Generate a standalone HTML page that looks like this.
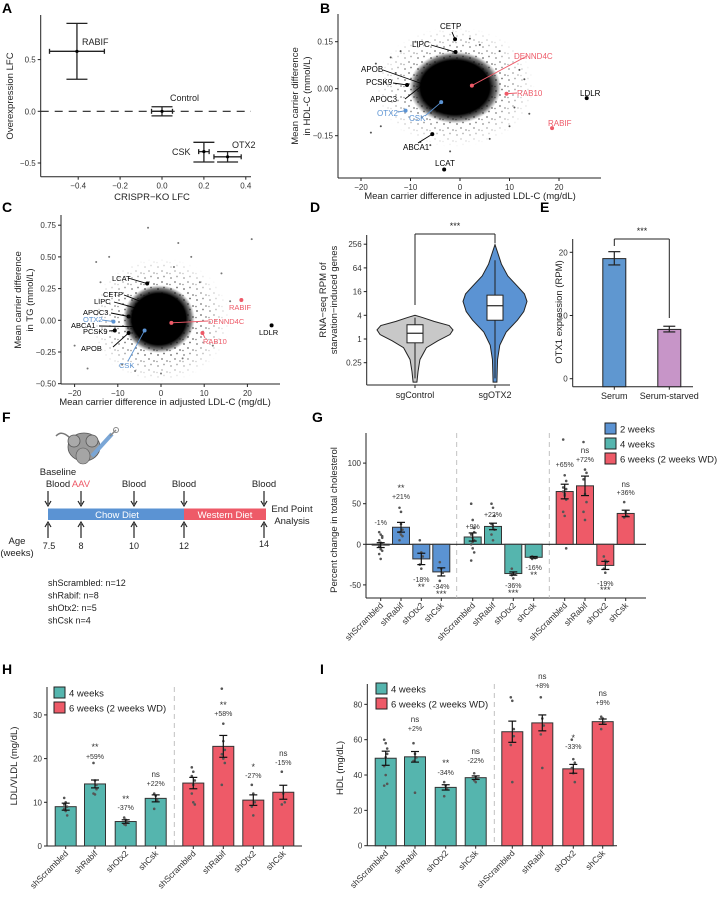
<!DOCTYPE html>
<html><head><meta charset="utf-8"><style>
body{margin:0;background:#fff}
svg{display:block;font-family:"Liberation Sans",Arial,sans-serif}
</style></head><body>
<svg id="fig" width="719" height="899" viewBox="0 0 719 899" xmlns="http://www.w3.org/2000/svg">
<defs>
<radialGradient id="cloud" cx="50%" cy="50%" r="50%">
<stop offset="0" stop-color="#000" stop-opacity="1"/>
<stop offset="0.75" stop-color="#000" stop-opacity="1"/>
<stop offset="0.9" stop-color="#222" stop-opacity="0.6"/>
<stop offset="1" stop-color="#555" stop-opacity="0"/>
</radialGradient>
<radialGradient id="fadeG" cx="50%" cy="50%" r="50%">
<stop offset="0" stop-color="#fff" stop-opacity="1"/>
<stop offset="0.55" stop-color="#fff" stop-opacity="0.9"/>
<stop offset="1" stop-color="#fff" stop-opacity="0"/>
</radialGradient>
<pattern id="dots" width="13" height="11" patternUnits="userSpaceOnUse">
<circle cx="2" cy="3" r="0.9" fill="#444"/>
<circle cx="8" cy="1.5" r="0.9" fill="#555"/>
<circle cx="6" cy="7" r="0.9" fill="#444"/>
<circle cx="11" cy="9" r="0.9" fill="#555"/>
<circle cx="1" cy="9.5" r="0.8" fill="#666"/>
</pattern>
<mask id="mB" maskUnits="userSpaceOnUse" x="0" y="0" width="719" height="899"><ellipse cx="455" cy="87" rx="80" ry="60" fill="url(#fadeG)"/></mask>
<mask id="mC" maskUnits="userSpaceOnUse" x="0" y="0" width="719" height="899"><ellipse cx="160" cy="320" rx="70" ry="62" fill="url(#fadeG)"/></mask>
</defs>
</svg>
<script>
// ---------- data ----------
// Panel A
const aNames=["RABIF","Control","CSK","OTX2"];
const aX=[-0.406,0,0.2,0.313];
const aXerr=[0.131,0.05,0.025,0.065];
const aY=[0.58,0,-0.39,-0.44];
const aYlo=[0.31,-0.044,-0.49,-0.49];
const aYhi=[0.85,0.044,-0.30,-0.39];
// Panel B (HDL)
const bNames=["CETP","LIPC","DENND4C","RAB10","LDLR","RABIF","LCAT","ABCA1","APOB","PCSK9","APOC3","OTX2","CSK"];
const bX=[-1,-0.9,2.4,9.4,25.6,18.6,-3.2,-5.6,-7.5,-10.7,-7.5,-11,-3.8];
const bY=[0.158,0.117,0.01,-0.016,-0.03,-0.126,-0.258,-0.145,0.015,0.012,0.012,-0.07,-0.043];
const bOutX=[-14,-16,-12,-18,-9,-6,4,8,12,14,-13,-15,10,6,-2,-8,13,-17,2,11];
const bOutY=[0.1,-0.12,0.12,-0.14,0.15,-0.18,0.14,0.12,0.06,-0.08,0.05,0.02,-0.12,-0.16,-0.2,-0.17,0.03,0.08,0.16,-0.06];
// Panel C (TG)
const cNames=["LCAT","CETP","LIPC","APOC3","OTX2","ABCA1","PCSK9","APOB","CSK","DENND4C","RAB10","RABIF","LDLR"];
const cX=[-3.2,-1,-0.9,-7.5,-11,-5.6,-10.7,-7.5,-3.8,2.4,9.6,18.6,25.6];
const cY=[0.29,0.1,0.05,0.03,-0.01,-0.05,-0.08,-0.1,-0.08,-0.02,-0.1,0.16,-0.04];
const cOutX=[-3,4,21,-15,-17,-20,14,16,-12,7,12,-6,5,-9,0,9,-14,3];
const cOutY=[0.73,0.61,0.64,0.46,-0.38,-0.2,0.37,0.15,0.5,0.5,-0.2,-0.4,-0.3,-0.35,-0.42,0.3,0.3,0.42];
// Panel D
const dGroups=["sgControl","sgOTX2"];
const ctrlVals=[0.08,0.15,0.3,0.6,0.9,1.3,1.7,2.2,2.8,3.5,4];
const ctrlDens=[0.05,0.08,0.13,0.3,0.6,0.92,1,0.9,0.5,0.2,0];
const otxVals=[0.08,0.3,0.7,1.5,3,5,9,14,22,40,80,160,250];
const otxDens=[0.06,0.08,0.15,0.35,0.7,0.9,1,0.92,0.7,0.4,0.2,0.08,0];
const dQ1=[0.8,3],dMed=[1.4,7],dQ3=[2.3,13],dWlo=[0.1,0.1],dWhi=[3.5,100];
const dTicks=[256,64,16,4,1,0.25];
// Panel E
const eCats=["Serum","Serum-starved"];
const eVals=[19,7.8];
const eLo=[18,7.4],eHi=[20.1,8.3];
// Panel G
const gCats=["shScrambled","shRabif","shOtx2","shCsk","shScrambled","shRabif","shOtx2","shCsk","shScrambled","shRabif","shOtx2","shCsk"];
const gVals=[-1,21,-18,-34,9,22,-36,-16,65,72,-26,38];
const gSem=[3,6,7,5,5,4,2,1,9,12,5,4];
const gPts=[[15,12,8,5,2,0,-3,-6,-8,-12,-18,10],[45,40,18,15,12,10,5,25],[5,-10,-15,-25,-30],[-22,-30,-35,-45],[50,30,15,12,8,5,0,-5,-10,-20,3,20],[50,45,35,25,22,18,12,5],[-30,-35,-37,-38,-42],[-15,-16,-17,-18],[129,85,78,70,60,55,40,35,-5,65,62,68],[126,92,88,80,62,52,40,30],[-15,-20,-22,-30,-35],[52,40,35,33]];
const gPct=["-1%","+21%","-18%","-34%","+9%","+22%","-36%","-16%","+65%","+72%","-19%","+36%"];
const gSig=["","**","**","***","","","***","**","","ns","***","ns"];
const gTicks=[-50,0,50,100];
// Panel H
const hCats=["shScrambled","shRabif","shOtx2","shCsk","shScrambled","shRabif","shOtx2","shCsk"];
const hVals=[9,14.2,5.6,10.9,14.4,22.8,10.5,12.3];
const hSem=[0.8,0.9,0.4,0.8,1.3,2.5,1.2,1.6];
const hPts=[[11,10,9,8.5,8,7,9.5],[19,15,13,12,11.8,14],[6.5,6,5.5,5,4.8],[12,11.5,10.5,8.5],[18,17,15,12,10,9.5,16,14],[36,28,22,21,20,19,14,24],[14,12,10,9,7],[17,12,10,9.5]];
const hPct=["","+59%","-37%","+22%","","+58%","-27%","-15%"];
const hSig=["","**","**","ns","","**","*","ns"];
const hTicks=[0,10,20,30];
// Panel I
const iVals=[49.5,50.3,33,38.5,64.5,69.5,43.5,70.2];
const iSem=[4,3,1.5,1,6,4.5,2.5,1.5];
const iPts=[[60,58,55,45,40,35,34,50,52],[58,52,50,48,30],[36,34,32,28],[41,39,38,37,36],[84,82,62,57,36,66],[84,72,68,63,44],[60,49,47,44,41,36],[73,72,70,66]];
const iPct=["","+2%","-34%","-22%","","+8%","-33%","+9%"];
const iSig=["","ns","**","ns","","ns","*","ns"];
const iTicks=[0,20,40,60,80];

// ---------- helpers ----------
const S=document.getElementById('fig');
const NS="http://www.w3.org/2000/svg";
function mk(tag,at,par){const e=document.createElementNS(NS,tag);for(const k in at)e.setAttribute(k,at[k]);(par||S).appendChild(e);return e;}
function tx(x,y,s,sz,opt){opt=opt||{};const e=mk('text',{x:x,y:y,'font-size':sz,fill:opt.fill||'#222','text-anchor':opt.anchor||'start'});if(opt.weight)e.setAttribute('font-weight',opt.weight);if(opt.rot!==undefined)e.setAttribute('transform','rotate('+opt.rot+' '+x+' '+y+')');e.textContent=s;return e;}
function ln(x1,y1,x2,y2,c,w,d){const e=mk('line',{x1:x1,y1:y1,x2:x2,y2:y2,stroke:c||'#222','stroke-width':w||1});if(d)e.setAttribute('stroke-dasharray',d);return e;}
function lin(d0,r0,d1,r1){return v=>r0+(v-d0)*(r1-r0)/(d1-d0);}
function yTicks(x,vals,sc,lab,sz){vals.forEach((v,i)=>{const y=sc(v);const t=ln(x-3,y,x,y);const l=tx(x-5,y+3,lab?lab[i]:String(v),sz||8,{anchor:'end',fill:'#333'});});}
function xTicks(y,vals,sc,lab,sz){vals.forEach((v,i)=>{const x=sc(v);const t=ln(x,y,x,y+3);const l=tx(x,y+12,lab?lab[i]:String(v),sz||8,{anchor:'middle',fill:'#333'});});}
function letter(x,y,s){const e=tx(x,y,s,14,{weight:'bold',fill:'#000'});}

// ---------- Panel A ----------
letter(2,13,'A');
const xA=lin(0,162,0.4,245.8), yA=lin(0,111.3,0.5,59.6);
ln(40.7,15,40.7,176.7); ln(40.7,176.7,251,176.7);
ln(40.7,yA(0),251,yA(0),'#222',1.1,'8,6');
xTicks(176.7,[-0.4,-0.2,0,0.2,0.4],xA,["−0.4","−0.2","0.0","0.2","0.4"]);
yTicks(40.7,[0.5,0,-0.5],yA,["0.5","0.0","−0.5"]);
tx(152,200,"CRISPR−KO LFC",9.5,{anchor:'middle'});
tx(13,96,"Overexpression LFC",9.5,{anchor:'middle',rot:-90});
const aLab=[[82,45],[170,101],[172,155],[232,148]];
aNames.forEach((n,i)=>{
  const g=mk('g',{});
  
  
  const cx=xA(aX[i]),cy=yA(aY[i]);
  g.appendChild(ln(cx,yA(aYlo[i]),cx,yA(aYhi[i]),'#222',1.3));
  g.appendChild(ln(cx-10.5,yA(aYlo[i]),cx+10.5,yA(aYlo[i]),'#222',1.3));
  g.appendChild(ln(cx-10.5,yA(aYhi[i]),cx+10.5,yA(aYhi[i]),'#222',1.3));
  g.appendChild(ln(xA(aX[i]-aXerr[i]),cy,xA(aX[i]+aXerr[i]),cy,'#222',1.3));
  g.appendChild(ln(xA(aX[i]-aXerr[i]),cy-2.5,xA(aX[i]-aXerr[i]),cy+2.5,'#222',1.3));
  g.appendChild(ln(xA(aX[i]+aXerr[i]),cy-2.5,xA(aX[i]+aXerr[i]),cy+2.5,'#222',1.3));
  mk('circle',{cx:cx,cy:cy,r:1.6,fill:'#000'},g);
  tx(aLab[i][0],aLab[i][1],n,9);
});

// ---------- Panel B ----------
letter(320,13,'B');
const xB=lin(0,460,10,509.5), yB=lin(0,88.7,0.15,41.7);
mk('rect',{x:370,y:25,width:170,height:125,fill:'url(#dots)',mask:'url(#mB)',});
mk('ellipse',{cx:xB(-1),cy:yB(0.004),rx:46,ry:36,fill:'url(#cloud)',});
bOutX.forEach((v,i)=>{const c=mk('circle',{cx:xB(v),cy:yB(bOutY[i]),r:1,fill:'#555'});});
ln(338,14,338,178); ln(338,178,601,178);
xTicks(178,[-20,-10,0,10,20],xB,["−20","−10","0","10","20"]);
yTicks(338,[0.15,0,-0.15],yB,["0.15","0.00","−0.15"]);
tx(470,199,"Mean carrier difference in adjusted LDL-C (mg/dL)",9.5,{anchor:'middle'});
tx(298,96,"Mean carrier difference",9.5,{anchor:'middle',rot:-90});
tx(310,96,"in HDL-C (mmol/L)",9.5,{anchor:'middle',rot:-90});
const bCol=["#000","#000","#ee5a68","#ee5a68","#000","#ee5a68","#000","#000","#000","#000","#000","#5b93d3","#5b93d3"];
const bLab=[[440,29],[412,47],[514,59],[517,96],[580,96],[548,126],[435,166],[403,150],[361,72],[366,85],[370,102],[377,116],[409,121]];
const bLine=[[452,32],[431,45],[527,56],[517,93],null,null,null,[418,143],[383,70],[393,83],[405,99],[398,112],[425,116]];
bNames.forEach((n,i)=>{
  const px=xB(bX[i]),py=yB(bY[i]);
  if(bLine[i])ln(px,py,bLine[i][0],bLine[i][1],bCol[i],0.9);
  const c=mk('circle',{cx:px,cy:py,r:2,fill:bCol[i]});
  
  
  tx(bLab[i][0],bLab[i][1],n,8,{fill:bCol[i]});
});

// ---------- Panel C ----------
letter(2,212,'C');
const xC=lin(0,161,10,204.2), yC=lin(0,320.3,0.25,288.6);
mk('rect',{x:88,y:256,width:145,height:128,fill:'url(#dots)',mask:'url(#mC)',});
mk('ellipse',{cx:xC(-0.5),cy:yC(0.01),rx:36,ry:34,fill:'url(#cloud)',});
cOutX.forEach((v,i)=>{const c=mk('circle',{cx:xC(v),cy:yC(cOutY[i]),r:1,fill:'#777'});});
ln(61,215,61,384); ln(61,384,280,384);
xTicks(384,[-20,-10,0,10,20],xC,["−20","−10","0","10","20"]);
yTicks(61,[0.75,0.5,0.25,0,-0.25,-0.5],yC,["0.75","0.50","0.25","0.00","−0.25","−0.50"]);
tx(165,405,"Mean carrier difference in adjusted LDL-C (mg/dL)",9.5,{anchor:'middle'});
tx(21,300,"Mean carrier difference",9.5,{anchor:'middle',rot:-90});
tx(33,300,"in TG (mmol/L)",9.5,{anchor:'middle',rot:-90});
const cCol=["#000","#000","#000","#000","#5b93d3","#000","#000","#000","#5b93d3","#ee5a68","#ee5a68","#ee5a68","#000"];
const cLab=[[112,281],[103,297],[94,304],[83,315],[83,322],[71,328],[83,334],[81,351],[119,368],[208,324],[203,344],[229,310],[259,335]];
const cLine=[[128,278],[124,295],[114,302],[111,313],[102,320],[99,326],[109,331],[113,347],[128,361],[208,321],[205,338],null,null];
cNames.forEach((n,i)=>{
  const px=xC(cX[i]),py=yC(cY[i]);
  if(cLine[i])ln(px,py,cLine[i][0],cLine[i][1],cCol[i],0.9);
  const c=mk('circle',{cx:px,cy:py,r:2,fill:cCol[i]});
  
  
  tx(cLab[i][0],cLab[i][1],n,7.5,{fill:cCol[i]});
});

// ---------- Panel D ----------
letter(310,212,'D');
const yD=v=>339-Math.log2(v)*11.85;
const dX=[415,495];
ln(366.7,235,366.7,385); ln(366.7,385,510,385);
yTicks(366.7,dTicks,yD,["256","64","16","4","1","0.25"]);
tx(326,300,"RNA−seq RPM of",9.5,{anchor:'middle',rot:-90});
tx(337,300,"starvation−induced genes",9.5,{anchor:'middle',rot:-90});
dGroups.forEach((g,i)=>{ln(dX[i],385,dX[i],388);tx(dX[i],398,g,9,{anchor:'middle'});});
function violin(cx,vals,dens,maxw,fill,name){
  let L=[],R=[];
  vals.forEach((v,i)=>{L.push((cx-dens[i]*maxw)+','+yD(v));R.unshift((cx+dens[i]*maxw)+','+yD(v));});
  const p=mk('polygon',{points:L.concat(R).join(' '),fill:fill,stroke:'#222','stroke-width':1});
  
  
}
violin(dX[0],ctrlVals,ctrlDens,38,'#c8c8c8','violin-sgcontrol');
violin(dX[1],otxVals,otxDens,32,'#5b93d3','violin-sgotx2');
dGroups.forEach((g,i)=>{
  const cx=dX[i];
  ln(cx,yD(dWlo[i]),cx,yD(dWhi[i]),'#222',1);
  const b=mk('rect',{x:cx-8,y:yD(dQ3[i]),width:16,height:yD(dQ1[i])-yD(dQ3[i]),fill:'#fff',stroke:'#222','stroke-width':1});
  
  
  ln(cx-8,yD(dMed[i]),cx+8,yD(dMed[i]),'#222',1.2);
});
ln(415,234,495,234);ln(415,234,415,305);ln(495,234,495,243);
tx(455,229,"***",9,{anchor:'middle'});

// ---------- Panel E ----------
letter(540,212,'E');
const yE=lin(0,378.7,20,252.3);
const eX=[614.3,669.3];
const eCol=["#5f97d0","#c795c8"];
ln(572.7,239,572.7,386.7); ln(572.7,386.7,693,386.7);
yTicks(572.7,[0,10,20],yE);
tx(562,312,"OTX1 expression (RPM)",9.5,{anchor:'middle',rot:-90});
eCats.forEach((c,i)=>{
  const r=mk('rect',{x:eX[i]-11.5,y:yE(eVals[i]),width:23,height:386.7-yE(eVals[i]),fill:eCol[i],stroke:'#222','stroke-width':1});
  
  
  ln(eX[i],yE(eLo[i]),eX[i],yE(eHi[i]),'#222',1.2);
  ln(eX[i]-6,yE(eLo[i]),eX[i]+6,yE(eLo[i]),'#222',1.2);
  ln(eX[i]-6,yE(eHi[i]),eX[i]+6,yE(eHi[i]),'#222',1.2);
  ln(eX[i],386.7,eX[i],389.7);
  tx(eX[i],399,c,9,{anchor:'middle'});
});
ln(614.3,239,669.3,239);ln(614.3,239,614.3,246);ln(669.3,239,669.3,318);
tx(642,234,"***",9,{anchor:'middle'});

// ---------- Panel F ----------
letter(2,422,'F');
(function(){
  const g=mk('g',{});
  
  
  mk('path',{d:'M70 438 C62 430 58 434 56 436',fill:'none',stroke:'#777','stroke-width':1.5},g);
  mk('ellipse',{cx:84,cy:447,rx:16,ry:14,fill:'#9a9a9a',stroke:'#555','stroke-width':0.8},g);
  mk('circle',{cx:74,cy:441,r:6,fill:'#aaa',stroke:'#555','stroke-width':0.8},g);
  mk('circle',{cx:92,cy:441,r:6,fill:'#aaa',stroke:'#555','stroke-width':0.8},g);
  mk('ellipse',{cx:83,cy:456,rx:7,ry:8,fill:'#a5a5a5',stroke:'#555','stroke-width':0.6},g);
  mk('line',{x1:92,y1:456,x2:112,y2:434,stroke:'#7aa6d6','stroke-width':4},g);
  mk('line',{x1:110,y1:436,x2:116,y2:430,stroke:'#888','stroke-width':1.5},g);
  mk('circle',{cx:116,cy:430,r:2.5,fill:'none',stroke:'#888'},g);
})();
const fX=[48,81,134,184,264];
const fAge=["7.5","8","10","12","14"];
const fTop=["Blood","AAV","Blood","Blood","Blood"];
tx(58,475,"Baseline",9.5,{anchor:'middle'});
fX.forEach((x,i)=>{
  const col=i===1?'#ee5a68':'#222';
  const l=tx(i===0?58:x,487,fTop[i],9.5,{anchor:'middle',fill:col});
  
  
  ln(x,491,x,504,'#222',1.2); mk('path',{d:`M${x-3} 501 L${x} 506 L${x+3} 501`,fill:'none',stroke:'#222','stroke-width':1.2});
  ln(x,524,x,538,'#222',1.2); mk('path',{d:`M${x-3} 527 L${x} 522 L${x+3} 527`,fill:'none',stroke:'#222','stroke-width':1.2});
  tx(i===0?49:x,i===4?547:549,fAge[i],9,{anchor:'middle'});
});
const chow=mk('rect',{x:48,y:508.5,width:136,height:11.5,fill:'#5b93d3'});

const west=mk('rect',{x:184,y:508.5,width:82,height:11.5,fill:'#ee5a68'});

tx(117,518,"Chow Diet",9.5,{anchor:'middle',fill:'#fff'});
tx(225,518,"Western Diet",9.5,{anchor:'middle',fill:'#fff'});
tx(292,512,"End Point",9.5,{anchor:'middle'});
tx(292,524,"Analysis",9.5,{anchor:'middle'});
tx(17,544,"Age",9.5,{anchor:'middle'});
tx(17,556,"(weeks)",9.5,{anchor:'middle'});
["shScrambled: n=12","shRabif: n=8","shOtx2: n=5","shCsk n=4"].forEach((s,i)=>tx(48,586+i*12.5,s,9));

// ---------- bar panel helper ----------
function barPanel(o){
  ln(o.ax,o.top,o.ax,o.bot); ln(o.ax,o.bot,o.right,o.bot);
  yTicks(o.ax,o.ticks,o.y);
  o.seps.forEach(s=>ln(s,o.top,s,o.bot,'#bbb',0.9,'5,4'));
  if(o.zero)ln(o.ax,o.y(0),o.right,o.y(0),'#222',1.1);
  tx(o.titleX,o.titleY,o.title,9.5,{anchor:'middle',rot:-90});
  o.vals.forEach((v,i)=>{
    const cx=o.xs[i],col=o.colors[i];
    const y0=o.y(0),y1=o.y(v);
    const r=mk('rect',{x:cx-o.w/2,y:Math.min(y0,y1),width:o.w,height:Math.abs(y1-y0),fill:col,stroke:'#333','stroke-width':1});
    
    
    o.pts[i].forEach((p,j)=>{const c=mk('circle',{cx:cx+((j%3)-1)*1.5,cy:o.y(p),r:1.3,fill:'#555'});});
    const lo=o.y(v-o.sem[i]),hi=o.y(v+o.sem[i]);
    ln(cx,lo,cx,hi,'#111',1.2);ln(cx-4,lo,cx+4,lo,'#111',1.2);ln(cx-4,hi,cx+4,hi,'#111',1.2);
    ln(cx,o.bot,cx,o.bot+3);
    const l=tx(cx+3,o.bot+8,o.cats[i],8.5,{anchor:'end',rot:-45,fill:'#333'});
    
    
    if(o.pctY[i]){tx(cx,o.pctY[i],o.pct[i],7,{anchor:'middle',fill:'#333'});}
    if(o.sigY[i]&&o.sig[i]){tx(cx,o.sigY[i],o.sig[i],o.sig[i]==='ns'?8:9,{anchor:'middle',fill:'#333'});}
  });
}
function legend(x,ys,cols,labs){
  ys.forEach((y,i)=>{
    const r=mk('rect',{x:x,y:y,width:11,height:11,fill:cols[i],stroke:'#222','stroke-width':1});
    
    
    tx(x+15,y+9.5,labs[i],9.5);
  });
}
const BL='#5b93d3',TE='#55b5ae',RD='#ee5a68';

// ---------- Panel G ----------
letter(312,422,'G');
const yG=lin(0,544.3,50,503.7);
barPanel({ax:366,top:433,bot:598,right:646,y:yG,ticks:gTicks,seps:[456.7,549.3],zero:true,
  title:"Percent change in total cholesterol",titleX:337,titleY:520,
  xs:[380.7,401,421.3,441.3,472.7,493,513.3,533.7,564.7,585,605.3,625.7],w:17,
  cats:gCats,vals:gVals,sem:gSem,pts:gPts,pct:gPct,sig:gSig,
  colors:[BL,BL,BL,BL,TE,TE,TE,TE,RD,RD,RD,RD],
  pctY:[525,499,582,589,529,517,588,570,467,462,586,495],
  sigY:[0,491,590,597,0,0,596,578,0,453,593,487]});
legend(605,[423,438,453],[BL,TE,RD],["2 weeks","4 weeks","6 weeks (2 weeks WD)"]);

// ---------- Panel H ----------
letter(2,674,'H');
const yH=lin(0,846,10,802.3);
barPanel({ax:47,top:687,bot:846,right:302,y:yH,ticks:hTicks,seps:[174.3],
  title:"LDL/VLDL (mg/dL)",titleX:17,titleY:766,
  xs:[65.7,95,125.7,155.7,193.3,223.3,253.3,283.3],w:21,
  cats:hCats,vals:hVals,sem:hSem,pts:hPts,pct:hPct,sig:hSig,
  colors:[TE,TE,TE,TE,RD,RD,RD,RD],
  pctY:[0,759,810,786,0,716,778,765],
  sigY:[0,750,802,777,0,708,770,756]});
legend(54,[687,702],[TE,RD],["4 weeks","6 weeks (2 weeks WD)"]);

// ---------- Panel I ----------
letter(320,674,'I');
const yI=lin(0,845.7,20,810.36);
barPanel({ax:367.3,top:684,bot:845.7,right:617,y:yI,ticks:iTicks,seps:[494.3],
  title:"HDL (mg/dL)",titleX:343,titleY:768,
  xs:[385.7,415,445.7,475.7,512.3,542.3,573.3,602.7],w:21,
  cats:hCats,vals:iVals,sem:iSem,pts:iPts,pct:iPct,sig:iSig,
  colors:[TE,TE,TE,TE,RD,RD,RD,RD],
  pctY:[0,731,775,763,0,688,749,705],
  sigY:[0,722,766,754,0,679,741,696]});
legend(376,[683,698],[TE,RD],["4 weeks","6 weeks (2 weeks WD)"]);
</script>
</body></html>
